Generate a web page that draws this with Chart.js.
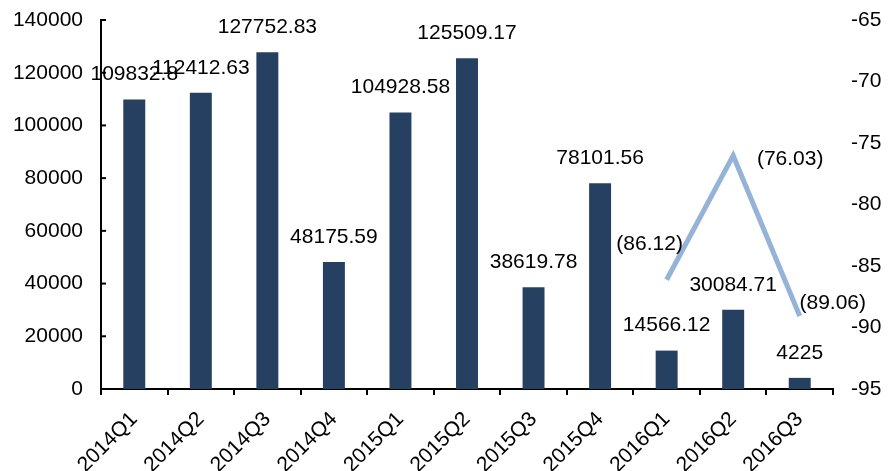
<!DOCTYPE html>
<html>
<head>
<meta charset="utf-8">
<script src="https://cdn.jsdelivr.net/npm/chart.js@4/dist/chart.umd.min.js"></script>
<style>
  html, body { margin: 0; padding: 0; background: #fff; }
  #wrap { width: 896px; height: 471px; }
</style>
</head>
<body>
<div id="wrap"><canvas id="chart" width="896" height="471"></canvas></div>
<script>
const categories = ["2014Q1", "2014Q2", "2014Q3", "2014Q4", "2015Q1", "2015Q2", "2015Q3", "2015Q4", "2016Q1", "2016Q2", "2016Q3"];
const barValues = [109832.8, 112412.63, 127752.83, 48175.59, 104928.58, 125509.17, 38619.78, 78101.56, 14566.12, 30084.71, 4225];
const lineValues = [null, null, null, null, null, null, null, null, -86.12, -76.03, -89.06];
const leftTicks = [0, 20000, 40000, 60000, 80000, 100000, 120000, 140000];
const rightTicks = [-95, -90, -85, -80, -75, -70, -65];

const FONT = "'Liberation Sans', Arial, sans-serif";

// label offsets for the line points (dx, dy from the point)
const lineLabelOffsets = [null, null, null, null, null, null, null, null, [-17, -36], [57, 4], [33, -13]];

const labelsPlugin = {
    id: "labels",
    afterDatasetsDraw(chart) {
        const ctx = chart.ctx;
        ctx.save();
        ctx.font = "21px " + FONT;
        ctx.fillStyle = "#000";
        ctx.textAlign = "center";
        ctx.textBaseline = "middle";

        chart.getDatasetMeta(0).data.forEach((bar, i) => {
            ctx.fillText(String(barValues[i]), bar.x, bar.y - 25);
        });

        chart.getDatasetMeta(1).data.forEach((pt, i) => {
            if (lineValues[i] === null) return;
            const off = lineLabelOffsets[i];
            const txt = "(" + Math.abs(lineValues[i]).toFixed(2) + ")";
            ctx.fillText(txt, pt.x + off[0], pt.y + off[1]);
        });

        // inward tick marks on left axis
        const y = chart.scales.y;
        ctx.strokeStyle = "#000";
        ctx.lineWidth = 2;
        leftTicks.forEach(v => {
            const py = y.getPixelForValue(v);
            ctx.beginPath();
            ctx.moveTo(y.right, py);
            ctx.lineTo(y.right + 5, py);
            ctx.stroke();
        });
        ctx.restore();
    }
};

new Chart(document.getElementById("chart"), {
    type: "bar",
    data: {
        labels: categories,
        datasets: [
            {
                type: "bar",
                data: barValues,
                backgroundColor: "#264061",
                categoryPercentage: 1,
                barPercentage: 0.33,
                yAxisID: "y",
                order: 2
            },
            {
                type: "line",
                data: lineValues,
                borderColor: "#95B3D7",
                borderWidth: 5,
                pointRadius: 0,
                tension: 0,
                spanGaps: false,
                yAxisID: "y1",
                order: 1
            }
        ]
    },
    options: {
        responsive: false,
        animation: false,
        layout: { padding: { top: 20, left: 0, right: 0, bottom: 0 } },
        plugins: {
            legend: { display: false },
            tooltip: { enabled: false }
        },
        scales: {
            x: {
                grid: {
                    display: true,
                    drawOnChartArea: false,
                    drawTicks: true,
                    tickLength: 6,
                    color: "#000",
                    lineWidth: 2,
                    offset: true
                },
                border: { color: "#000", width: 2 },
                ticks: {
                    color: "#000",
                    font: { family: FONT, size: 21 },
                    minRotation: 45,
                    maxRotation: 45,
                    padding: 12,
                    autoSkip: false
                },
                afterFit(scale) { scale.height = 82; }
            },
            y: {
                position: "left",
                min: 0,
                max: 140000,
                afterBuildTicks(scale) { scale.ticks = leftTicks.map(v => ({ value: v })); },
                grid: { display: false, drawTicks: false },
                border: { color: "#000", width: 2 },
                ticks: {
                    color: "#000",
                    font: { family: FONT, size: 21 },
                    padding: 18,
                    callback: v => String(v)
                },
                afterFit(scale) { scale.width = 101; scale.paddingTop = 0; }
            },
            y1: {
                position: "right",
                min: -95,
                max: -65,
                afterBuildTicks(scale) { scale.ticks = rightTicks.map(v => ({ value: v })); },
                grid: { display: false, drawTicks: false },
                border: { display: false },
                ticks: {
                    color: "#000",
                    font: { family: FONT, size: 21 },
                    padding: 18,
                    callback: v => String(v)
                },
                afterFit(scale) { scale.width = 63; scale.paddingTop = 0; }
            }
        }
    },
    plugins: [labelsPlugin]
});
</script>
</body>
</html>
